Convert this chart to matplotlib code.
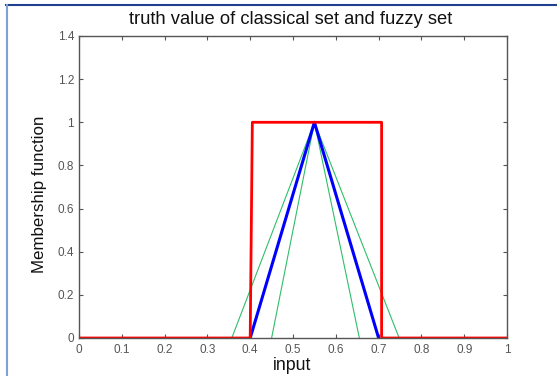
"""
Classical (crisp) set vs fuzzy set membership functions
"""
import numpy as np
from matplotlib import pyplot as plt
from matplotlib.lines import Line2D

plt.rcParams["font.family"] = ["Liberation Sans", "DejaVu Sans"]

# crisp set: rectangle on [0.4, 0.71]
crisp_x = [0, 0.40, 0.405, 0.707, 0.707, 1]
crisp_y = [0, 0, 1, 1, 0, 0]

# fuzzy set: triangle peaking at 0.55
fuzzy_x = [0.40, 0.55, 0.70]
fuzzy_y = [0, 1, 0]

# wider / narrower triangles
wide_x = [0.357, 0.55, 0.748]
narrow_x = [0.45, 0.55, 0.655]
tri_y = [0, 1, 0]

x_ticks = np.round(np.arange(0, 1.01, 0.1), 1)
y_ticks = np.round(np.arange(0, 1.41, 0.2), 1)

W, H = 557, 376
fig = plt.figure(figsize=(W / 100, H / 100), dpi=100)
ax = fig.add_axes([79 / W, 1 - 338 / H, 428 / W, 302 / H])

green = "#2fbf6a"
ax.plot(wide_x, tri_y, color=green, linewidth=0.8)
ax.plot(narrow_x, tri_y, color=green, linewidth=0.8)
ax.plot(fuzzy_x, fuzzy_y, color="#0000ff", linewidth=2.2)
ax.plot(crisp_x, crisp_y, color="#ff0000", linewidth=2.0)

ax.set_xlim(0, 1)
ax.set_ylim(0, 1.4)
ax.set_xticks(x_ticks)
ax.set_xticklabels(["%g" % t for t in x_ticks])
ax.set_yticks(y_ticks)
ax.set_yticklabels(["%g" % t for t in y_ticks])
ax.tick_params(direction="in", top=True, right=True, length=3,
               labelsize=8.5, colors="#555555", width=0.8)
ax.tick_params(axis="x", pad=4)
for s in ax.spines.values():
    s.set_color("#555555")
    s.set_linewidth(1.0)

fig.text(291 / W, 1 - 20 / H, "truth value of classical set and fuzzy set",
         fontsize=13.2, ha="center", va="center", color="#111111")
fig.text(292 / W, 1 - 365 / H, "input", fontsize=12.8,
         ha="center", va="center", color="#111111")
fig.text(40 / W, 1 - 194 / H, "Membership function", fontsize=12.2,
         ha="center", va="center", rotation="vertical", color="#111111")

# window border lines
fig.add_artist(Line2D([6 / W, 1], [1 - 5 / H, 1 - 5 / H],
                      color="#1f3f8f", linewidth=1.5, transform=fig.transFigure))
fig.add_artist(Line2D([6.5 / W, 6.5 / W], [0, 1 - 5 / H],
                      color="#7f9fd8", linewidth=1.5, transform=fig.transFigure))

fig.savefig("out.png", dpi=100)
